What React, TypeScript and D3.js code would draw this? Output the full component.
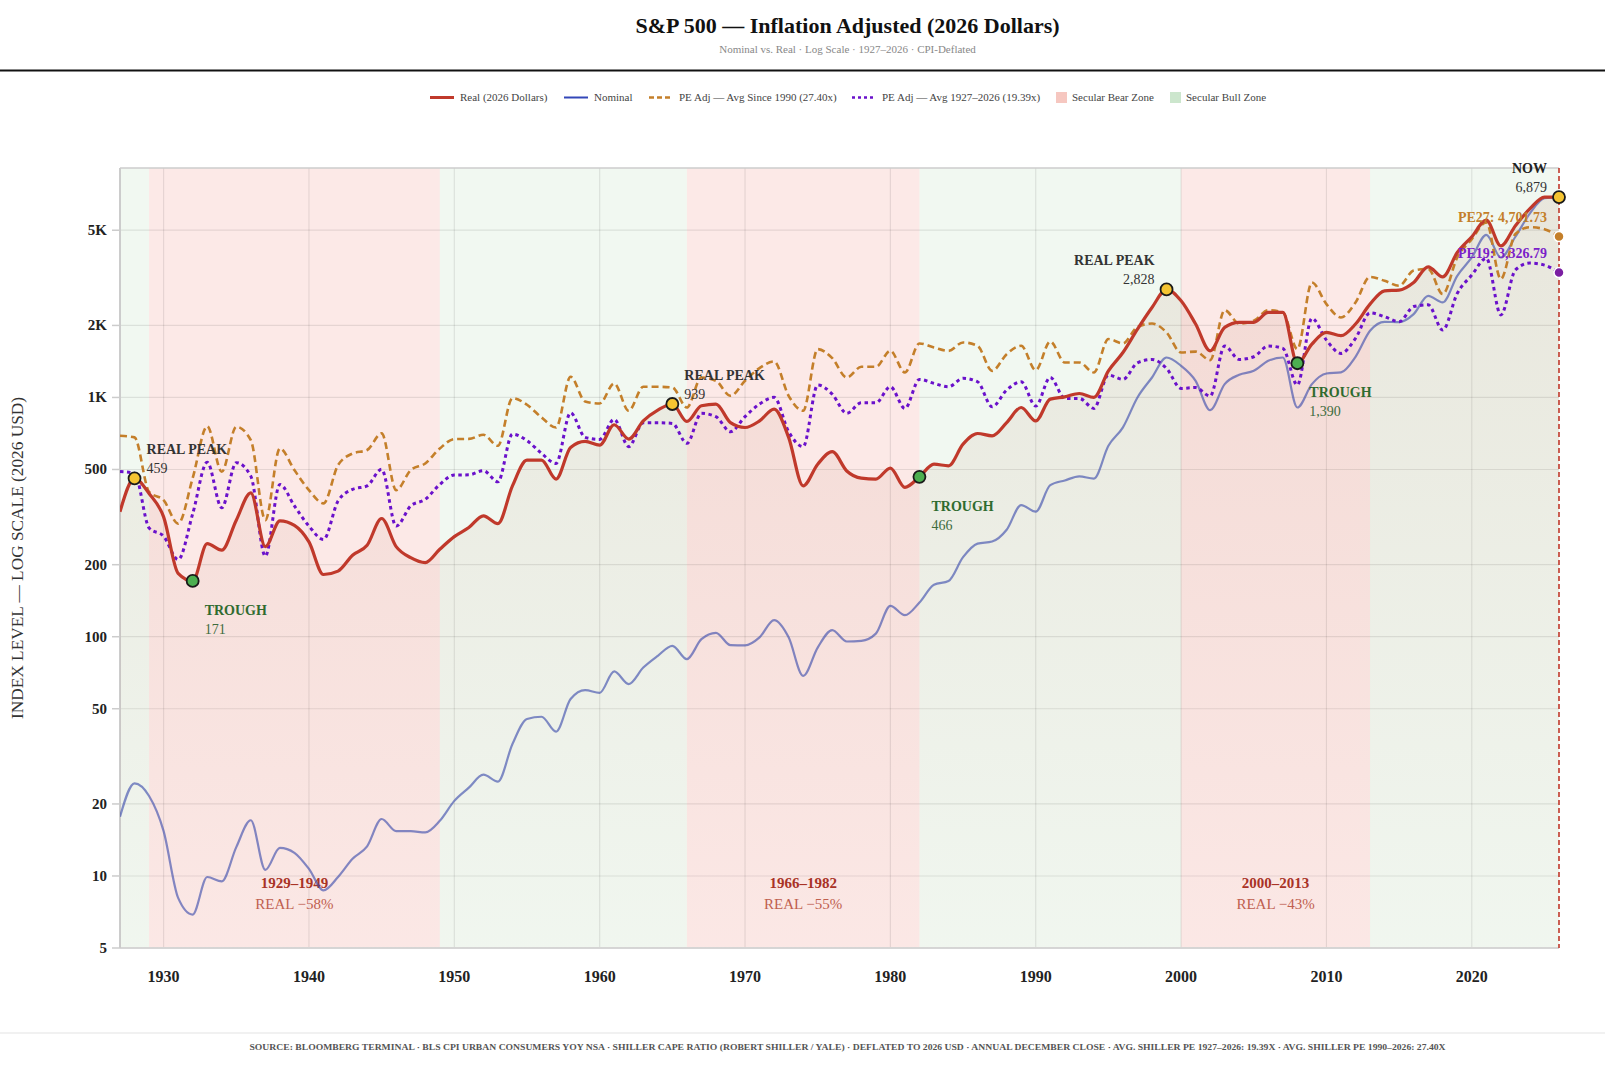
import React from 'react';
import * as d3 from 'd3';

// ---- data ----
const years = d3.range(1927, 2027);

const realValues = [
  333, 459, 397, 317, 184, 171, 245, 230, 307, 399, // 1927-1936
  238, 305, 292, 249, 182, 188, 219, 241, 312, 238, // 1937-1946
  214, 204, 232, 262, 286, 320, 297, 427, 547, 547, // 1947-1956
  456, 618, 655, 632, 769, 670, 798, 885, 939, 794, // 1957-1966
  923, 938, 785, 749, 798, 894, 681, 427, 526, 594, // 1967-1976
  493, 460, 456, 507, 421, 466, 526, 518, 638, 707, // 1977-1986
  691, 785, 908, 798, 984, 1006, 1039, 1000, 1292, 1541, // 1987-1996
  1931, 2378, 2828, 2535, 2027, 1567, 1963, 2060, 2060, 2266, // 1997-2006
  2266, 1390, 1672, 1870, 1812, 2027, 2455, 2791, 2810, 3025, // 2007-2016
  3517, 3193, 4035, 4697, 5512, 4300, 5221, 6150, 6880, 6879, // 2017-2026
];

const nominalValues = [
  17.7, 24.4, 21.6, 15.4, 8.1, 6.9, 9.9, 9.5, 13.2, 17.1,
  10.6, 13.1, 12.5, 10.7, 8.7, 9.9, 11.8, 13.3, 17.3, 15.4,
  15.4, 15.2, 17.0, 20.6, 23.4, 26.5, 24.8, 35.6, 45.3, 46.3,
  40.1, 54.9, 59.8, 58.3, 71.6, 63.4, 74.3, 83.2, 91.6, 80.6,
  97.7, 103.8, 92.2, 92.0, 99.4, 117.3, 99.4, 68.6, 90.1, 106.5,
  95.5, 96.1, 103, 134.6, 123, 139, 165, 171, 215, 245,
  250, 280, 355, 333, 430, 450, 468, 458, 628, 750,
  1000, 1212, 1469, 1356, 1174, 885, 1137, 1244, 1292, 1423,
  1469, 908, 1137, 1259, 1273, 1479, 1900, 2071, 2064, 2230,
  2660, 2496, 3225, 3848, 4783, 3846, 4696, 5880, 6800, 6879,
];

const pe27Values = [
  692, 681, 403, 372, 297, 460, 758, 489, 754, 663,
  307, 612, 497, 410, 361, 521, 583, 603, 708, 410,
  497, 530, 612, 670, 671, 698, 628, 994, 932, 825,
  749, 1220, 962, 944, 1144, 880, 1108, 1108, 1101, 908,
  1212, 1174, 1016, 1174, 1327, 1414, 1016, 880, 1592, 1460,
  1212, 1343, 1343, 1566, 1272, 1682, 1618, 1566, 1698, 1644,
  1292, 1517, 1644, 1300, 1714, 1400, 1400, 1272, 1754, 1682,
  1973, 2037, 1870, 1541, 1555, 1432, 2317, 2037, 2091, 2317,
  2266, 1592, 3025, 2455, 2159, 2494, 3191, 3073, 2929, 3390,
  3445, 2704, 3846, 4590, 5394, 3125, 4820, 5150, 5050, 4701.73,
];

const pe19Values = [
  490, 482, 285, 263, 210, 326, 536, 346, 534, 469,
  217, 433, 352, 290, 255, 369, 413, 427, 501, 290,
  352, 375, 433, 474, 475, 494, 444, 703, 660, 584,
  530, 863, 681, 668, 810, 623, 784, 784, 779, 643,
  858, 831, 719, 831, 939, 1001, 719, 623, 1127, 1033,
  858, 950, 950, 1108, 900, 1190, 1145, 1108, 1202, 1163,
  914, 1074, 1163, 920, 1213, 991, 991, 900, 1241, 1190,
  1396, 1442, 1323, 1091, 1100, 1013, 1640, 1442, 1480, 1640,
  1604, 1127, 2141, 1737, 1528, 1765, 2258, 2175, 2073, 2399,
  2438, 1914, 2722, 3248, 3817, 2212, 3411, 3645, 3574, 3326.79,
];

const bullZones = [
  [1927, 1929], [1949, 1966], [1982, 2000], [2013, 2026],
];
const bearZones = [
  { start: 1929, end: 1949, title: '1929–1949', sub: 'REAL −58%' },
  { start: 1966, end: 1982, title: '1966–1982', sub: 'REAL −55%' },
  { start: 2000, end: 2013, title: '2000–2013', sub: 'REAL −43%' },
];

const yTicks = [5, 10, 20, 50, 100, 200, 500, 1000, 2000, 5000];
const yTickLabels = ['5', '10', '20', '50', '100', '200', '500', '1K', '2K', '5K'];
const xTicks = [1930, 1940, 1950, 1960, 1970, 1980, 1990, 2000, 2010, 2020];

const markers = [
  { year: 1928, kind: 'peak', label: 'REAL PEAK', text: '459', side: 'right' },
  { year: 1932, kind: 'trough', label: 'TROUGH', text: '171', side: 'right' },
  { year: 1965, kind: 'peak', label: 'REAL PEAK', text: '939', side: 'right' },
  { year: 1982, kind: 'trough', label: 'TROUGH', text: '466', side: 'right' },
  { year: 1999, kind: 'peak', label: 'REAL PEAK', text: '2,828', side: 'left' },
  { year: 2008, kind: 'trough', label: 'TROUGH', text: '1,390', side: 'right' },
  { year: 2026, kind: 'now', label: 'NOW', text: '6,879', side: 'left' },
];

const legendItems = [
  { kind: 'line', x: 430, text: 'Real (2026 Dollars)', color: '#c0392b', width: 3, dash: '' },
  { kind: 'line', x: 564, text: 'Nominal', color: '#3347b8', width: 2, dash: '' },
  { kind: 'line', x: 649, text: 'PE Adj — Avg Since 1990 (27.40x)', color: '#c47f2a', width: 2.5, dash: '5,3' },
  { kind: 'line', x: 852, text: 'PE Adj — Avg 1927–2026 (19.39x)', color: '#6a11cb', width: 2.5, dash: '3,3' },
  { kind: 'box', x: 1056, text: 'Secular Bear Zone', color: '#f6c7c0', width: 0, dash: '' },
  { kind: 'box', x: 1170, text: 'Secular Bull Zone', color: '#cce6cd', width: 0, dash: '' },
];

const FONT = "'Liberation Serif', 'Times New Roman', serif";
const W = 1605;
const H = 1084;
const plot = { left: 120, right: 1559, top: 168, bottom: 948 };
const CX = 847.5;

const App: React.FC = () => {
  const x = d3.scaleLinear().domain([1927, 2026]).range([plot.left, plot.right]);
  const y = d3.scaleLog().domain([5, 9100]).range([plot.bottom, plot.top]);

  const line = d3.line<number>()
    .x((_, i) => x(years[i]))
    .y(d => y(d))
    .curve(d3.curveMonotoneX);

  const area = d3.area<number>()
    .x((_, i) => x(years[i]))
    .y0(plot.bottom)
    .y1(d => y(d))
    .curve(d3.curveMonotoneX);

  const valueAt = (yr: number) => realValues[years.indexOf(yr)];
  const last = years.length - 1;

  return (
    <svg width={W} height={H} style={{ position: 'absolute', left: 0, top: 0, background: '#fff' }} fontFamily={FONT}>
      <defs>
        <linearGradient id="realFill" gradientUnits="userSpaceOnUse" x1="0" y1={plot.top} x2="0" y2={plot.bottom}>
          <stop offset="0%" stopColor="#a0522d" stopOpacity={0.11} />
          <stop offset="100%" stopColor="#a0522d" stopOpacity={0.01} />
        </linearGradient>
        <clipPath id="plotClip">
          <rect x={plot.left} y={plot.top} width={plot.right - plot.left} height={plot.bottom - plot.top} />
        </clipPath>
      </defs>

      {/* header */}
      <text x={CX} y={33} textAnchor="middle" fontSize={22} fontWeight="bold" fill="#111">
        S&amp;P 500 — Inflation Adjusted (2026 Dollars)
      </text>
      <text x={CX} y={53} textAnchor="middle" fontSize={11} fill="#888">
        Nominal vs. Real · Log Scale · 1927–2026 · CPI-Deflated
      </text>
      <line x1={0} x2={W} y1={70.5} y2={70.5} stroke="#111" strokeWidth={2} />

      {/* legend */}
      {legendItems.map((d, i) => (
        <g key={i}>
          {d.kind === 'line' ? (
            <line x1={d.x} x2={d.x + 24} y1={97.5} y2={97.5} stroke={d.color} strokeWidth={d.width}
              strokeDasharray={d.dash || undefined} />
          ) : (
            <rect x={d.x} y={92} width={11} height={11} fill={d.color} />
          )}
          <text x={d.x + (d.kind === 'line' ? 30 : 16)} y={101} fontSize={11} fill="#444">{d.text}</text>
        </g>
      ))}

      {/* zones */}
      {bullZones.map(([s, e], i) => (
        <rect key={'bull' + i} x={x(s)} y={plot.top} width={x(e) - x(s)} height={plot.bottom - plot.top}
          fill="rgba(76,160,80,0.08)" />
      ))}
      {bearZones.map((z, i) => (
        <rect key={'bear' + i} x={x(z.start)} y={plot.top} width={x(z.end) - x(z.start)} height={plot.bottom - plot.top}
          fill="rgba(231,76,60,0.12)" />
      ))}

      {/* grid */}
      {yTicks.map(t => (
        <line key={'gy' + t} x1={plot.left} x2={plot.right} y1={y(t)} y2={y(t)} stroke="rgba(0,0,0,0.09)" strokeWidth={1.2} />
      ))}
      {xTicks.map(t => (
        <line key={'gx' + t} x1={x(t)} x2={x(t)} y1={plot.top} y2={plot.bottom} stroke="rgba(0,0,0,0.09)" strokeWidth={1.2} />
      ))}

      {/* frame */}
      <line x1={plot.left} x2={plot.right} y1={plot.top} y2={plot.top} stroke="#ccc" strokeWidth={1.5} />
      <line x1={plot.left} x2={plot.right} y1={plot.bottom} y2={plot.bottom} stroke="#d6d6d6" strokeWidth={2} />
      <line x1={plot.left} x2={plot.left} y1={plot.top} y2={plot.bottom} stroke="#ccc" strokeWidth={2} />

      {/* zone labels */}
      {bearZones.map((z, i) => {
        const mx = (x(z.start) + x(z.end)) / 2;
        return (
          <g key={'zl' + i}>
            <text x={mx} y={888} textAnchor="middle" fontSize={15} fontWeight="bold" fill="#a93226">{z.title}</text>
            <text x={mx} y={909} textAnchor="middle" fontSize={15} fill="#c0604f">{z.sub}</text>
          </g>
        );
      })}

      <g clipPath="url(#plotClip)">
        <path d={area(realValues) || ''} fill="url(#realFill)" />
        <path d={line(nominalValues) || ''} fill="none" stroke="#3949ab" strokeOpacity={0.62} strokeWidth={2.2} />
        <path d={line(pe27Values) || ''} fill="none" stroke="#c47f2a" strokeWidth={2.6} strokeDasharray="7,4" />
        <path d={line(pe19Values) || ''} fill="none" stroke="#6a11cb" strokeWidth={3} strokeDasharray="3.5,3.5" />
        <path d={line(realValues) || ''} fill="none" stroke="#c0392b" strokeWidth={3.2} />
      </g>

      {/* now line */}
      <line x1={x(2026)} x2={x(2026)} y1={plot.top} y2={plot.bottom} stroke="#c0392b" strokeWidth={1.6} strokeDasharray="5,3" />

      {/* axes */}
      {yTicks.map((t, i) => (
        <g key={'yt' + t}>
          <line x1={plot.left - 8} x2={plot.left} y1={y(t)} y2={y(t)} stroke="#ccc" strokeWidth={1.5} />
          <text x={107} y={y(t) + 5} textAnchor="end" fontSize={15} fontWeight="bold" fill="#222">{yTickLabels[i]}</text>
        </g>
      ))}
      {xTicks.map(t => (
        <text key={'xt' + t} x={x(t)} y={982} textAnchor="middle" fontSize={16} fontWeight="bold" fill="#222">{t}</text>
      ))}
      <text transform="translate(23,558) rotate(-90)" textAnchor="middle" fontSize={16} fill="#333"
        textLength={322} lengthAdjust="spacingAndGlyphs">
        INDEX LEVEL — LOG SCALE (2026 USD)
      </text>

      {/* PE end points */}
      <circle cx={x(2026)} cy={y(pe27Values[last])} r={5} fill="#c47f2a" stroke="#fff" strokeWidth={1.5} />
      <circle cx={x(2026)} cy={y(pe19Values[last])} r={5} fill="#7b1fa2" stroke="#fff" strokeWidth={1.5} />
      <text x={x(2026) - 12} y={y(pe27Values[last]) - 15} textAnchor="end" fontSize={14} fontWeight="bold" fill="#c47f2a">
        PE27: {d3.format(',.2f')(pe27Values[last])}
      </text>
      <text x={x(2026) - 12} y={y(pe19Values[last]) - 15} textAnchor="end" fontSize={14} fontWeight="bold" fill="#7b1fc9">
        PE19: {d3.format(',.2f')(pe19Values[last])}
      </text>

      {/* peaks / troughs */}
      {markers.map((m, i) => {
        const px = x(m.year);
        const py = y(valueAt(m.year));
        const isTrough = m.kind === 'trough';
        const tx = m.side === 'right' ? px + 12 : px - 12;
        const anchor = m.side === 'right' ? 'start' : 'end';
        const ly = isTrough ? py + 34 : py - 24;
        const vy = isTrough ? py + 53 : py - 5;
        const labelColor = isTrough ? '#2f6b2f' : m.kind === 'now' ? '#222' : '#333';
        const valueColor = isTrough ? '#3d6b3d' : '#333';
        return (
          <g key={'m' + i}>
            <circle cx={px} cy={py} r={6} fill={isTrough ? '#4caf50' : '#f5c431'} stroke="#1a1a1a" strokeWidth={1.8} />
            <text x={tx} y={ly} textAnchor={anchor} fontSize={14} fontWeight="bold" fill={labelColor}>{m.label}</text>
            <text x={tx} y={vy} textAnchor={anchor} fontSize={14} fill={valueColor}>{m.text}</text>
          </g>
        );
      })}

      {/* footer */}
      <line x1={0} x2={W} y1={1033} y2={1033} stroke="#e3e3e3" strokeWidth={1} />
      <text x={CX} y={1050} textAnchor="middle" fontSize={9} fontWeight="bold" fill="#555"
        textLength={1196} lengthAdjust="spacingAndGlyphs">
        SOURCE: BLOOMBERG TERMINAL · BLS CPI URBAN CONSUMERS YOY NSA · SHILLER CAPE RATIO (ROBERT SHILLER / YALE) · DEFLATED TO 2026 USD · ANNUAL DECEMBER CLOSE · AVG. SHILLER PE 1927–2026: 19.39X · AVG. SHILLER PE 1990–2026: 27.40X
      </text>
    </svg>
  );
};

export default App;
